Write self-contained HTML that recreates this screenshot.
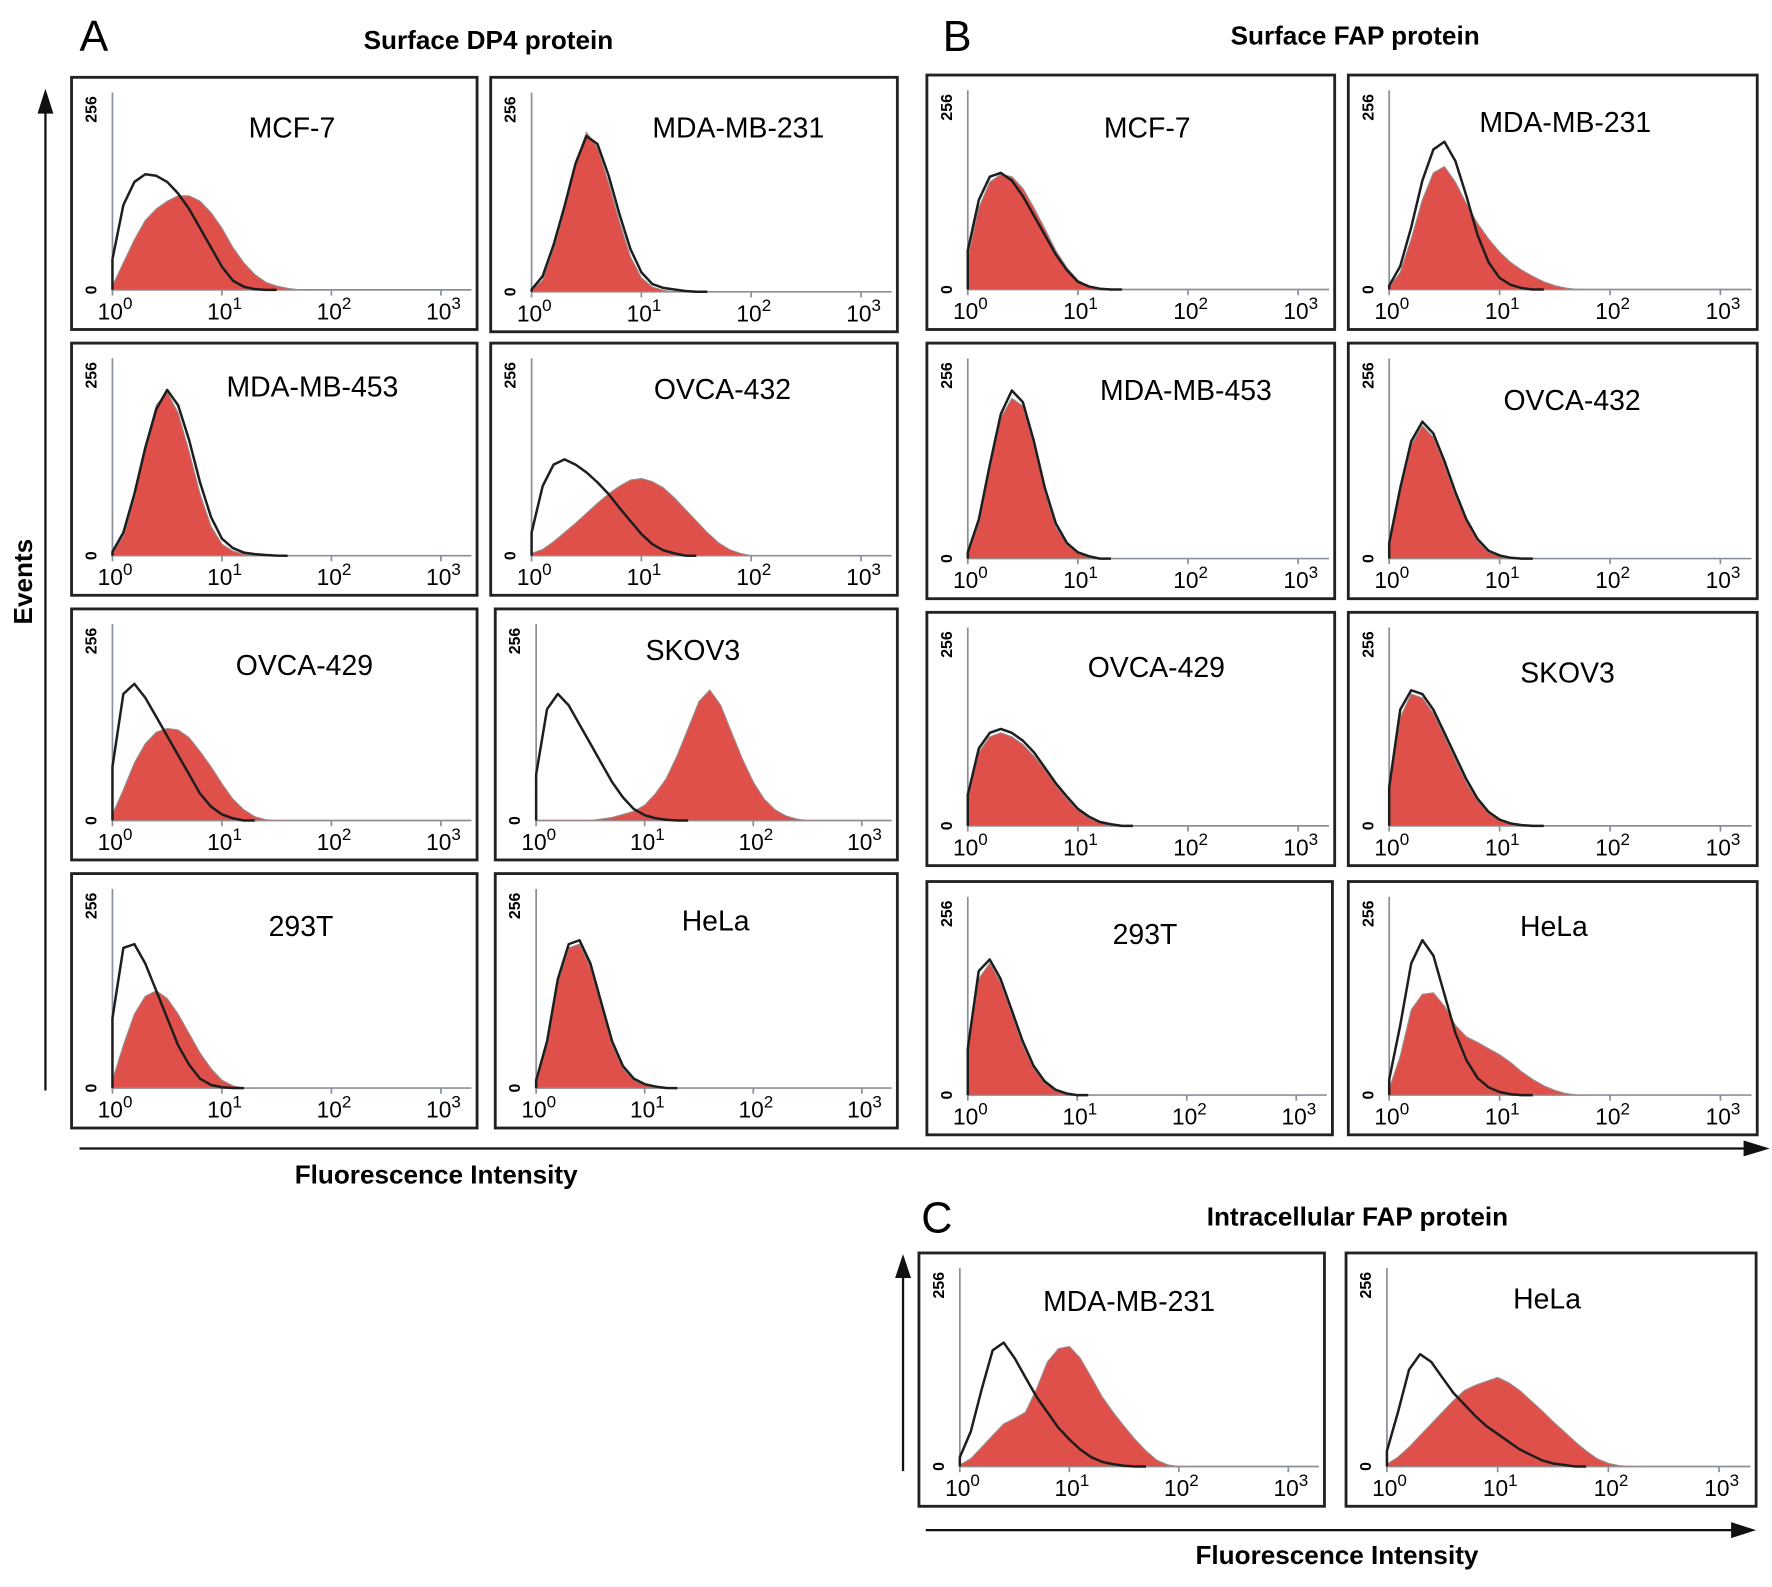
<!DOCTYPE html>
<html><head><meta charset="utf-8"><style>
html,body{margin:0;padding:0;background:#fff}
svg{display:block;font-family:"Liberation Sans",Arial,sans-serif}
</style></head><body>
<svg id="fig" width="1772" height="1587" viewBox="0 0 1560 1397" xmlns="http://www.w3.org/2000/svg">
<g>
<text x="70" y="45" font-size="38">A</text>
<text x="430" y="43" font-size="23" font-weight="bold" text-anchor="middle">Surface DP4 protein</text>
</g>
<g>
<text x="830" y="45" font-size="38">B</text>
<text x="1193" y="39" font-size="23" font-weight="bold" text-anchor="middle">Surface FAP protein</text>
</g>
<g>
<text x="811" y="1085" font-size="38">C</text>
<text x="1195" y="1079" font-size="23" font-weight="bold" text-anchor="middle">Intracellular FAP protein</text>
</g>
<g>
<line x1="40" y1="960" x2="40" y2="95" stroke="#111" stroke-width="2"/>
<polygon points="33,100 47,100 40,78" fill="#111"/>
<text transform="translate(28,512) rotate(-90)" font-size="23" font-weight="bold" text-anchor="middle">Events</text>
</g>
<g>
<line x1="70" y1="1011" x2="1540" y2="1011" stroke="#111" stroke-width="2"/>
<polygon points="1535,1004 1535,1018 1558,1011" fill="#111"/>
<text x="384" y="1042" font-size="23" font-weight="bold" text-anchor="middle">Fluorescence Intensity</text>
</g>
<g>
<line x1="795" y1="1295" x2="795" y2="1122" stroke="#111" stroke-width="2"/>
<polygon points="788,1125 802,1125 795,1104" fill="#111"/>
<line x1="815" y1="1347" x2="1530" y2="1347" stroke="#111" stroke-width="2"/>
<polygon points="1524,1340 1524,1354 1546,1347" fill="#111"/>
<text x="1177" y="1377" font-size="23" font-weight="bold" text-anchor="middle">Fluorescence Intensity</text>
</g>
<g id="plots"></g>
</svg>
<script>
// Histogram data: counts (0-256) at log10(intensity) = 0, 0.1, 0.2, ... (missing = 0)
const cellLines = ["MCF-7","MDA-MB-231","MDA-MB-453","OVCA-432","OVCA-429","SKOV3","293T","HeLa",
  "MCF-7","MDA-MB-231","MDA-MB-453","OVCA-432","OVCA-429","SKOV3","293T","HeLa","MDA-MB-231","HeLa"];
const controlCounts = [
 [40,110,140,150,148,140,125,105,80,55,30,12,4,1,0],
 [3,20,60,110,165,200,190,150,100,55,25,10,5,3,1,0],
 [5,30,80,140,190,215,195,150,95,50,22,10,4,2,1,0],
 [30,90,118,125,118,108,95,80,62,45,28,15,7,3,0],
 [70,165,178,160,135,110,85,60,35,18,8,3,0],
 [60,145,165,150,125,100,75,50,30,15,7,3,1,0],
 [90,180,185,160,125,90,55,30,12,4,1,0],
 [10,60,140,185,190,160,110,60,28,12,5,2,0],
 [50,115,145,150,140,120,95,70,45,25,10,4,1,0],
 [5,30,80,140,180,190,165,120,70,35,15,6,2,0],
 [8,50,120,185,215,200,150,90,45,20,8,3,0],
 [20,90,150,175,160,125,85,50,25,10,4,1,0],
 [40,100,120,125,120,110,95,75,55,38,22,12,5,2,0],
 [50,150,175,170,150,120,90,60,35,18,8,3,1,0],
 [60,160,175,150,110,70,38,18,7,2,0],
 [20,90,170,200,180,130,80,45,22,10,4,1,0],
 [12,45,100,150,160,140,115,90,70,50,35,22,12,6,3,1,0],
 [20,70,125,145,135,115,95,80,65,52,42,32,22,15,8,4,2,0]
];
const sampleCounts = [
 [5,35,65,90,105,115,122,122,115,100,80,55,35,20,10,5,2,0],
 [2,15,55,105,165,205,185,140,90,45,18,6,2,0],
 [3,25,75,140,195,212,185,135,80,38,15,6,2,0],
 [3,8,18,30,42,55,68,80,90,98,100,96,88,75,60,45,30,17,8,3,0],
 [8,40,75,100,115,120,118,108,90,70,48,28,14,5,1,0],
 [0,0,0,0,0,0,2,4,8,12,20,35,55,85,120,155,170,150,115,80,50,28,14,6,2,0],
 [10,55,95,118,125,115,95,70,45,25,10,3,0],
 [8,55,135,180,185,155,105,55,25,10,4,1,0],
 [40,105,138,148,145,130,105,78,50,28,12,4,1,0],
 [3,22,65,115,150,158,138,110,85,65,48,35,25,17,10,5,2,0],
 [6,45,115,180,205,195,145,85,40,18,7,2,0],
 [18,85,145,170,155,120,80,48,22,8,3,1,0],
 [35,95,115,120,115,105,90,72,52,35,20,10,4,1,0],
 [45,140,170,165,145,115,85,55,32,16,7,2,0],
 [55,150,170,145,105,65,35,16,6,2,0],
 [8,50,110,130,132,115,90,75,68,60,52,42,30,20,12,6,2,0],
 [2,10,25,40,55,62,70,100,135,152,155,140,115,90,70,52,35,20,8,2,0],
 [3,12,25,40,55,70,85,98,105,110,115,108,98,85,72,58,45,32,20,10,4,1,0]
];
const tickLabels = ["0","1","2","3"];
const boxes = [
 [63,68,357,222],[432,68,358,224],[63,302,357,222],[432,302,358,222],
 [63,536,357,221],[436,536,354,221],[63,769,357,224],[436,769,354,224],
 [816,66,359,224],[1187,66,360,224],[816,302,359,225],[1187,302,360,225],
 [816,539,359,223],[1187,539,360,223],[816,776,357,223],[1187,776,360,223],
 [809,1103,357,223],[1185,1103,361,223]
];
const labelPos = [
 [257,112],[650,112],[275,340],[636,342],[268,585],[610,572],[265,815],[630,810],
 [1010,112],[1378,107],[1044,343],[1384,352],[1018,587],[1380,592],[1008,822],[1368,815],
 [994,1145],[1362,1143]
];
const NS="http://www.w3.org/2000/svg";
const root=document.getElementById('plots');
function mk(tag,attrs,parent){const e=document.createElementNS(NS,tag);for(const k in attrs)e.setAttribute(k,attrs[k]);parent.appendChild(e);return e;}
function pathFor(vals,xs,ys,base,x0,closed){
  let d="M"+x0+","+base;
  vals.forEach((v,i)=>{d+=" L"+xs(i*0.1).toFixed(1)+","+ys(v).toFixed(1);});
  const lastX=xs(vals.length*0.1);
  d+=" L"+lastX.toFixed(1)+","+base;
  if(closed)d+=" Z";
  return d;
}
boxes.forEach((b,k)=>{
  const [bx,by,w,h]=b;
  const g=mk('g',{},root);
  
  
  const frame=mk('rect',{x:bx,y:by,width:w,height:h,fill:'none',stroke:'#222','stroke-width':2.5},g);
  
  
  const x0=bx+36, dec=w*0.27, base=by+h*0.843, top=by+h*0.06, H=base-top;
  const xs=v=>x0+v*dec, ys=c=>base-c/256*H;
  const ax=mk('path',{d:"M"+x0+","+top+" L"+x0+","+base+" L"+(bx+w-5)+","+base,fill:'none',stroke:'#8a9098','stroke-width':1.5},g);
  
  
  for(let t=0;t<=3;t++){
    mk('line',{x1:xs(t),y1:base,x2:xs(t),y2:base+5,stroke:'#8a9098','stroke-width':1.5},g);
    const tl=mk('text',{x:xs(t)-13,y:base+26,'font-size':20},g);
    
    
    tl.textContent='10';
    const sp=mk('tspan',{dy:-9,'font-size':15},tl);sp.textContent=tickLabels[t];
  }
  const y256=mk('text',{transform:"translate("+(bx+22)+","+(top+15)+") rotate(-90)",'font-size':14,'font-weight':'bold','text-anchor':'middle'},g);
  
  
  y256.textContent='256';
  const y0=mk('text',{transform:"translate("+(bx+22)+","+base+") rotate(-90)",'font-size':14,'font-weight':'bold','text-anchor':'middle'},g);
  
  
  y0.textContent='0';
  const red=mk('path',{d:pathFor(sampleCounts[k],xs,ys,base,x0,true),fill:'#e0504a',stroke:'#9a8a8a','stroke-width':1},g);
  
  
  const blk=mk('path',{d:pathFor(controlCounts[k],xs,ys,base,x0,false),fill:'none',stroke:'#1e1e1e','stroke-width':2.2,'stroke-linejoin':'round'},g);
  
  
  const lab=mk('text',{x:labelPos[k][0],y:labelPos[k][1]+9,'font-size':25,'text-anchor':'middle'},g);
  
  
  lab.textContent=cellLines[k];
});
</script>
</body></html>
